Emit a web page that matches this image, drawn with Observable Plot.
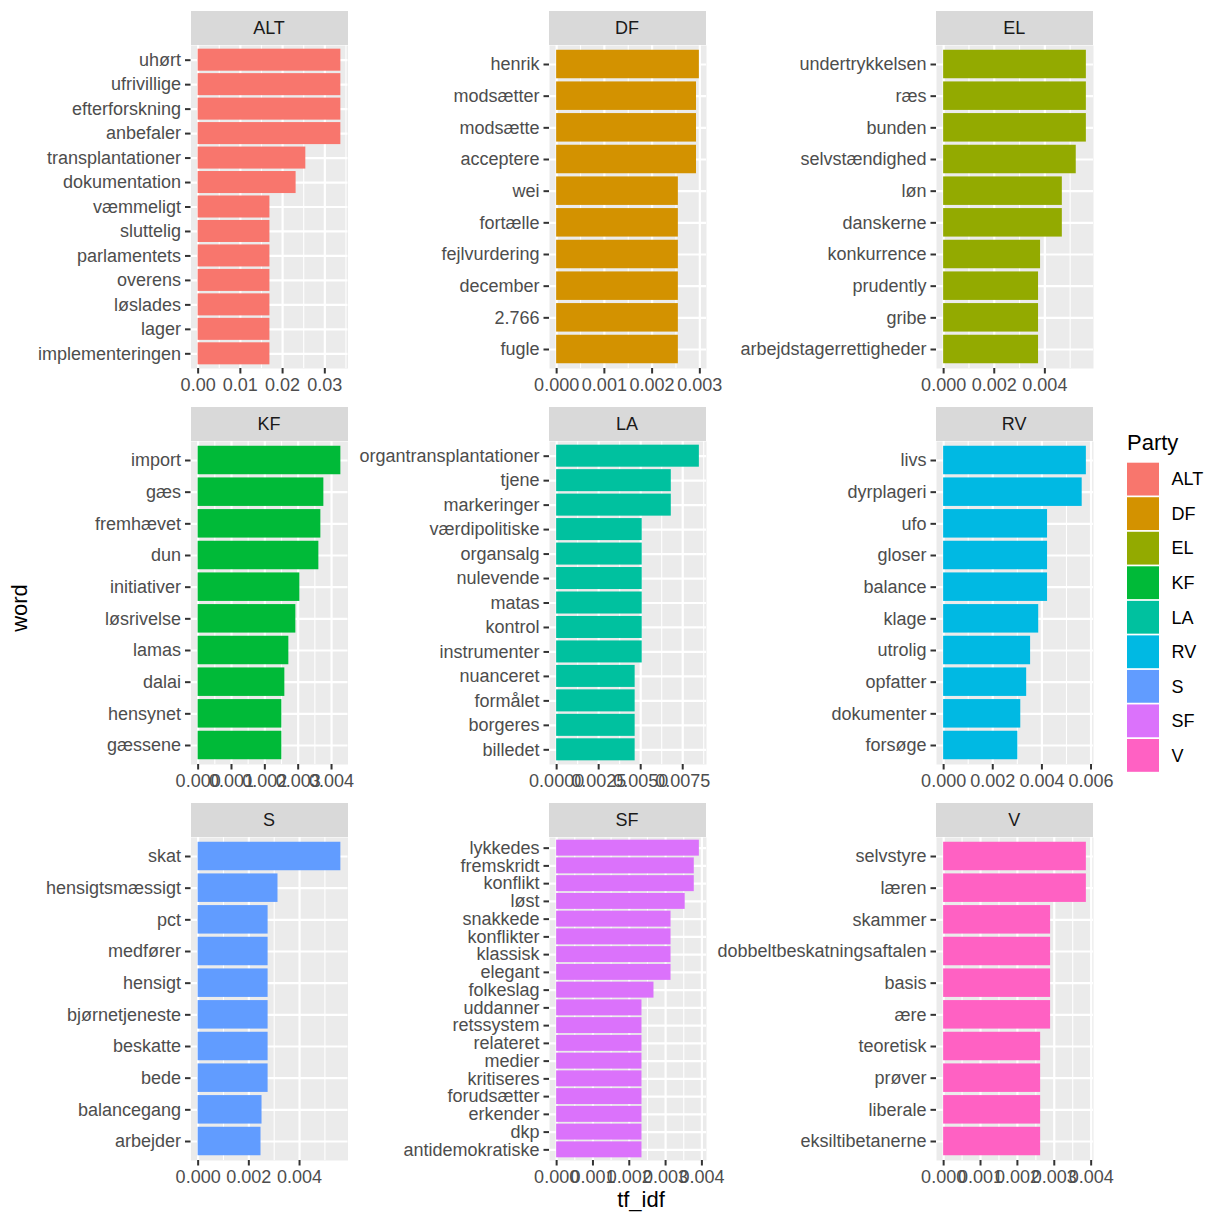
<!DOCTYPE html>
<html>
<head>
<meta charset="utf-8">
<script src="https://cdn.jsdelivr.net/npm/d3@7"></script>
<script src="https://cdn.jsdelivr.net/npm/@observablehq/plot@0.6"></script>
<style>
  body { margin: 0; background: #fff; font-family: "Liberation Sans", Arial, sans-serif; }
  #chart { position: relative; width: 1224px; height: 1224px; overflow: hidden; }
  .panel { position: absolute; }
  .strip { position: absolute; background: #D9D9D9; color: #1A1A1A; font-size: 18px;
           display: flex; align-items: center; justify-content: center; }
  .atitle { position: absolute; color: #000; font-size: 22px; white-space: nowrap; line-height: 22px; }
</style>
</head>
<body>
<div id="chart"></div>
<script>
// Parties and their fill colours
const parties = ["ALT", "DF", "EL", "KF", "LA", "RV", "S", "SF", "V"];
const partyColors = ["#F8766D", "#D39200", "#93AA00", "#00BA38", "#00C19F", "#00B9E3", "#619CFF", "#DB72FB", "#FF61C3"];

// Top tf-idf words per party (highest first)
const altWords = ["uhørt", "ufrivillige", "efterforskning", "anbefaler", "transplantationer", "dokumentation", "væmmeligt", "sluttelig", "parlamentets", "overens", "løslades", "lager", "implementeringen"];
const altValues = [0.0338, 0.0338, 0.0338, 0.0338, 0.0255, 0.0232, 0.0170, 0.0170, 0.0170, 0.0170, 0.0170, 0.0170, 0.0170];
const altTicks = [0, 0.01, 0.02, 0.03];
const altTickLabels = ["0.00", "0.01", "0.02", "0.03"];

const dfWords = ["henrik", "modsætter", "modsætte", "acceptere", "wei", "fortælle", "fejlvurdering", "december", "2.766", "fugle"];
const dfValues = [0.00299, 0.00293, 0.00293, 0.00293, 0.00255, 0.00255, 0.00255, 0.00255, 0.00255, 0.00255];
const dfTicks = [0, 0.001, 0.002, 0.003];
const dfTickLabels = ["0.000", "0.001", "0.002", "0.003"];

const elWords = ["undertrykkelsen", "ræs", "bunden", "selvstændighed", "løn", "danskerne", "konkurrence", "prudently", "gribe", "arbejdstagerrettigheder"];
const elValues = [0.00564, 0.00564, 0.00564, 0.00524, 0.00469, 0.00469, 0.00383, 0.00375, 0.00375, 0.00375];
const elTicks = [0, 0.002, 0.004];
const elTickLabels = ["0.000", "0.002", "0.004"];

const kfWords = ["import", "gæs", "fremhævet", "dun", "initiativer", "løsrivelse", "lamas", "dalai", "hensynet", "gæssene"];
const kfValues = [0.00428, 0.00377, 0.00368, 0.00362, 0.00305, 0.00293, 0.00272, 0.00260, 0.00251, 0.00251];
const kfTicks = [0, 0.001, 0.002, 0.003, 0.004];
const kfTickLabels = ["0.000", "0.001", "0.002", "0.003", "0.004"];

const laWords = ["organtransplantationer", "tjene", "markeringer", "værdipolitiske", "organsalg", "nulevende", "matas", "kontrol", "instrumenter", "nuanceret", "formålet", "borgeres", "billedet"];
const laValues = [0.00849, 0.00682, 0.00682, 0.00509, 0.00509, 0.00509, 0.00509, 0.00509, 0.00509, 0.00467, 0.00467, 0.00467, 0.00467];
const laTicks = [0, 0.0025, 0.005, 0.0075];
const laTickLabels = ["0.0000", "0.0025", "0.0050", "0.0075"];

const rvWords = ["livs", "dyrplageri", "ufo", "gloser", "balance", "klage", "utrolig", "opfatter", "dokumenter", "forsøge"];
const rvValues = [0.00581, 0.00564, 0.00423, 0.00423, 0.00423, 0.00387, 0.00354, 0.00338, 0.00314, 0.00302];
const rvTicks = [0, 0.002, 0.004, 0.006];
const rvTickLabels = ["0.000", "0.002", "0.004", "0.006"];

const sWords = ["skat", "hensigtsmæssigt", "pct", "medfører", "hensigt", "bjørnetjeneste", "beskatte", "bede", "balancegang", "arbejder"];
const sValues = [0.00563, 0.00315, 0.00276, 0.00276, 0.00276, 0.00276, 0.00276, 0.00276, 0.00252, 0.00248];
const sTicks = [0, 0.002, 0.004];
const sTickLabels = ["0.000", "0.002", "0.004"];

const sfWords = ["lykkedes", "fremskridt", "konflikt", "løst", "snakkede", "konflikter", "klassisk", "elegant", "folkeslag", "uddanner", "retssystem", "relateret", "medier", "kritiseres", "forudsætter", "erkender", "dkp", "antidemokratiske"];
const sfValues = [0.00393, 0.00379, 0.00379, 0.00354, 0.00315, 0.00315, 0.00315, 0.00315, 0.00268, 0.00235, 0.00235, 0.00235, 0.00235, 0.00235, 0.00235, 0.00235, 0.00235, 0.00235];
const sfTicks = [0, 0.001, 0.002, 0.003, 0.004];
const sfTickLabels = ["0.000", "0.001", "0.002", "0.003", "0.004"];

const vWords = ["selvstyre", "læren", "skammer", "dobbeltbeskatningsaftalen", "basis", "ære", "teoretisk", "prøver", "liberale", "eksiltibetanerne"];
const vValues = [0.00387, 0.00387, 0.00290, 0.00290, 0.00290, 0.00290, 0.00263, 0.00263, 0.00263, 0.00263];
const vTicks = [0, 0.001, 0.002, 0.003, 0.004];
const vTickLabels = ["0.000", "0.001", "0.002", "0.003", "0.004"];

// Facet grid geometry (3 x 3, free scales)
const PANEL_LEFT = [190.5, 548.5, 935.7];
const PANEL_TOP = [45, 441, 837];
const PANEL_W = 157;
const PANEL_H = 323;
const STRIP_H = 34;
const MT = 12, MB = 40, MR = 40;
const FONT = "'Liberation Sans', Arial, sans-serif";
const TICK_FONT = 18;

const chart = document.getElementById("chart");

function facet(party, words, values, ticks, tickLabels, col, row) {
  const data = words.map((w, i) => ({word: w, tf_idf: values[i], party}));
  const max = d3.max(values);
  const domain = [-0.05 * max, 1.05 * max];
  const step = ticks[1] - ticks[0];
  const minor = d3.range(ticks.length + 1)
    .map(i => ticks[0] - step / 2 + i * step)
    .filter(v => v >= domain[0] && v <= domain[1]);
  const fmt = d => tickLabels[ticks.findIndex(t => Math.abs(t - d) < 1e-12)];
  const ml = Math.min(PANEL_LEFT[col], 232);

  const svg = Plot.plot({
    width: ml + PANEL_W + MR,
    height: MT + PANEL_H + MB,
    marginLeft: ml, marginRight: MR, marginTop: MT, marginBottom: MB,
    style: `background: transparent; overflow: visible; font: ${TICK_FONT}px ${FONT};`,
    x: {domain, label: null},
    y: {type: "band", domain: words, paddingInner: 0.1, paddingOuter: 0.15, round: false, label: null},
    color: {domain: parties, range: partyColors},
    marks: [
      Plot.frame({fill: "#EBEBEB", stroke: "none"}),
      Plot.gridX(minor, {stroke: "#fff", strokeOpacity: 1, strokeWidth: 1.1}),
      Plot.gridX(ticks, {stroke: "#fff", strokeOpacity: 1, strokeWidth: 2.2}),
      Plot.gridY(words, {stroke: "#fff", strokeOpacity: 1, strokeWidth: 2.2}),
      Plot.barX(data, {x: "tf_idf", y: "word", fill: "party"}),
      Plot.axisX(ticks, {tickSize: 5.5, tickPadding: 4.4, stroke: "#333333", strokeWidth: 2,
                         fill: "#4D4D4D", fontSize: TICK_FONT, tickFormat: fmt, label: null}),
      Plot.axisY(words, {tickSize: 5.5, tickPadding: 4.4, stroke: "#333333", strokeWidth: 2,
                         fill: "#4D4D4D", fontSize: TICK_FONT, label: null})
    ]
  });
  svg.classList.add("panel");
  svg.style.left = (PANEL_LEFT[col] - ml) + "px";
  svg.style.top = (PANEL_TOP[row] - MT) + "px";
  chart.appendChild(svg);

  const strip = document.createElement("div");
  strip.className = "strip";
  strip.textContent = party;
  Object.assign(strip.style, {
    left: PANEL_LEFT[col] + "px", top: (PANEL_TOP[row] - STRIP_H) + "px",
    width: PANEL_W + "px", height: STRIP_H + "px"
  });
  chart.appendChild(strip);
}

facet("ALT", altWords, altValues, altTicks, altTickLabels, 0, 0);
facet("DF", dfWords, dfValues, dfTicks, dfTickLabels, 1, 0);
facet("EL", elWords, elValues, elTicks, elTickLabels, 2, 0);
facet("KF", kfWords, kfValues, kfTicks, kfTickLabels, 0, 1);
facet("LA", laWords, laValues, laTicks, laTickLabels, 1, 1);
facet("RV", rvWords, rvValues, rvTicks, rvTickLabels, 2, 1);
facet("S", sWords, sValues, sTicks, sTickLabels, 0, 2);
facet("SF", sfWords, sfValues, sfTicks, sfTickLabels, 1, 2);
facet("V", vWords, vValues, vTicks, vTickLabels, 2, 2);

// Axis titles
const xTitle = document.createElement("div");
xTitle.className = "atitle";
xTitle.textContent = "tf_idf";
Object.assign(xTitle.style, {left: "641px", top: "1189px", transform: "translateX(-50%)"});
chart.appendChild(xTitle);

const yTitle = document.createElement("div");
yTitle.className = "atitle";
yTitle.textContent = "word";
Object.assign(yTitle.style, {left: "20px", top: "608px", transform: "translate(-50%, -50%) rotate(-90deg)"});
chart.appendChild(yTitle);

// Legend: title plus one key per party
const legTitle = document.createElement("div");
legTitle.className = "atitle";
legTitle.textContent = "Party";
Object.assign(legTitle.style, {left: "1127px", top: "432px"});
chart.appendChild(legTitle);

const KEY = 34.5, KEY_W = 32, LEG_W = 90;
const legend = Plot.plot({
  width: LEG_W, height: parties.length * KEY,
  margin: 0,
  style: `background: transparent; overflow: visible; font: ${TICK_FONT}px ${FONT};`,
  x: {axis: null},
  y: {type: "band", domain: parties, paddingInner: 0.05, paddingOuter: 0.02, round: false, axis: null},
  color: {domain: parties, range: partyColors},
  marks: [
    Plot.cell(parties, {y: d => d, fill: d => d, insetRight: LEG_W - KEY_W}),
    Plot.text(parties, {y: d => d, text: d => d, frameAnchor: "left", dx: 44,
                        textAnchor: "start", fill: "#000", fontSize: TICK_FONT})
  ]
});
legend.classList.add("panel");
legend.style.left = "1127px";
legend.style.top = "462px";
chart.appendChild(legend);
</script>
</body>
</html>
